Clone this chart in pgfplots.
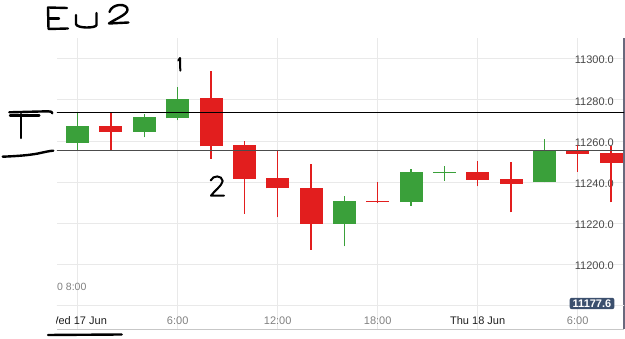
\documentclass[border=0pt]{standalone}
\usepackage{pgfplots}
\pgfplotsset{compat=1.18}
\usepackage{pgfplotstable}
\usepackage{fontspec}
\setmainfont{Liberation Sans}
\definecolor{cgreen}{RGB}{58,160,58}
\definecolor{cred}{RGB}{226,30,30}
\definecolor{gridc}{RGB}{233,233,233}
\definecolor{boxc}{RGB}{60,80,110}
\definecolor{rightc}{RGB}{105,105,125}

% 2-hour candles: t = hours from Wed 17 Jun 0:00
\pgfplotstableread{
t O H L C
0 11259.1 11273.6 11255.5 11267.3
4 11264.4 11273.2 11261.8 11271.8
6 11271.0 11286.1 11270.0 11280.6
16 11219.8 11233.3 11208.9 11230.9
20 11230.3 11246.5 11228.6 11244.8
22 11244.5 11247.7 11240.8 11245.2
28 11240.0 11261.2 11240.0 11255.3
}\upcandles

\pgfplotstableread{
t O H L C
2 11267.3 11273.6 11255.5 11264.4
8 11281.1 11294.2 11251.3 11257.4
10 11257.9 11260.2 11224.6 11241.7
12 11241.9 11255.3 11223.0 11237.0
14 11237.0 11248.9 11207.3 11219.8
18 11231.0 11240.1 11230.0 11230.3
24 11245.0 11250.1 11238.0 11241.3
26 11241.6 11249.7 11225.4 11239.3
30 11255.3 11258.3 11245.0 11253.7
32 11254.2 11257.4 11230.2 11249.4
}\downcandles

\pgfplotsset{
  wick/.style={draw=none, mark=none,
    error bars/y dir=plus, error bars/y explicit, error bars/error mark=none,
    error bars/error bar style={draw=#1, line width=1.3pt}},
  body/.style={draw=none, mark=none,
    error bars/y dir=plus, error bars/y explicit, error bars/error mark=none,
    error bars/error bar style={draw=#1, line width=23pt}},
}
\tikzset{xlab/.style={font=\fontsize{11}{13}\selectfont, inner sep=0pt, anchor=base, text=black!50}}

\begin{document}
\begin{tikzpicture}
\path[use as bounding box] (0,0) rectangle (625pt,339pt);
\begin{axis}[
  at={(57pt,10pt)}, anchor=south west,
  scale only axis, width=567pt, height=291pt,
  xmin=-1.24, xmax=32.78, ymin=11168.8, ymax=11310,
  axis x line*=bottom, axis y line*=right,
  x axis line style={draw=black!22, line width=0.9pt, -},
  y axis line style={draw=rightc, line width=1.4pt, -},
  xtick={0,6,...,30}, xticklabels={},
  ytick={11200,11220,...,11300},
  scaled y ticks=false,
  major tick length=0pt,
  xmajorgrids, ymajorgrids,
  major grid style={draw=gridc, line width=0.9pt},
  /pgf/number format/fixed, /pgf/number format/fixed zerofill,
  /pgf/number format/precision=1, /pgf/number format/1000 sep={},
  /pgf/number format/assume math mode=true,
  yticklabel style={anchor=east, xshift=-10pt, yshift=-1.5pt, inner sep=0pt,
    font=\fontsize{11}{13}\selectfont, text=black!72},
]
\draw[gridc, line width=0.9pt] (axis cs:-5,11180) -- (axis cs:40,11180);

\addplot[wick=cgreen] table[x=t, y=L, y error expr=\thisrow{H}-\thisrow{L}] {\upcandles};
\addplot[body=cgreen] table[x=t, y=O, y error expr=\thisrow{C}-\thisrow{O}] {\upcandles};
\addplot[wick=cred] table[x=t, y=L, y error expr=\thisrow{H}-\thisrow{L}] {\downcandles};
\addplot[body=cred] table[x=t, y=C, y error expr=\thisrow{O}-\thisrow{C}] {\downcandles};

\draw[black, line width=1.1pt] (axis cs:-5,11273.8) -- (axis cs:40,11273.8);
\draw[black!70, line width=1.4pt] (axis cs:-5,11255.3) -- (axis cs:40,11255.3);

\node[xlab, text=black!88] at (axis cs:0,11170.8) {Wed 17 Jun};
\node[xlab] at (axis cs:6,11170.8) {6:00};
\node[xlab] at (axis cs:12,11170.8) {12:00};
\node[xlab] at (axis cs:18,11170.8) {18:00};
\node[xlab, text=black!88] at (axis cs:24,11170.8) {Thu 18 Jun};
\node[xlab] at (axis cs:30,11170.8) {6:00};
\end{axis}

\begin{scope}[x=1pt, y=-1pt, shift={(0pt,339pt)}]
  \node[anchor=west, inner sep=0pt, font=\fontsize{10.5}{12}\selectfont, text=black!50] at (57,286.7) {0 8:00};
  \node[fill=boxc, text=white, rounded corners=2pt, inner xsep=3pt, inner ysep=1.7pt,
        text height=8pt, text depth=0pt, font=\fontsize{11}{13}\selectfont\bfseries] at (592,303.5) {11177.6};
  \begin{scope}[line width=2.4pt, line cap=round, line join=round, black]
    % Eu2
    \draw (67,8) -- (48,7.5) -- (48.5,29) -- (68,28.5);
    \draw (48.5,18.5) -- (59,18.5);
    \draw (76,15) -- (76,24) .. controls (76.5,28.5) and (96,28.5) .. (96.5,25) -- (96.5,13);
    \draw (109.5,12) .. controls (112,3) and (128,3) .. (127.5,10) .. controls (127,15) and (114,19.5) .. (109,23.5) -- (128.5,22.5);
    % 1
    \draw[line width=2pt] (178.3,60.5) -- (180,58) -- (180.3,70.7);
    % 2
    \draw[line width=2pt] (210.7,180.5) .. controls (213,175) and (222,175) .. (222.7,181) .. controls (222,186) and (214,191) .. (211,195.7) -- (224,195.7);
    % left bracket marks
    \draw (9.3,112.3) -- (48,111.3) .. controls (51,111.2) and (52.5,112) .. (52.3,113.3);
    \draw (10,115.7) -- (39.3,115.7);
    \draw (21,114) -- (21,138);
    \draw (2.7,156.7) .. controls (20,156) and (30,155) .. (38,153.5) .. controls (45,152) and (50,150.8) .. (53.3,150.7);
    % underline
    \draw (48,335) -- (121.7,334.5);
  \end{scope}
\end{scope}
\end{tikzpicture}
\end{document}
